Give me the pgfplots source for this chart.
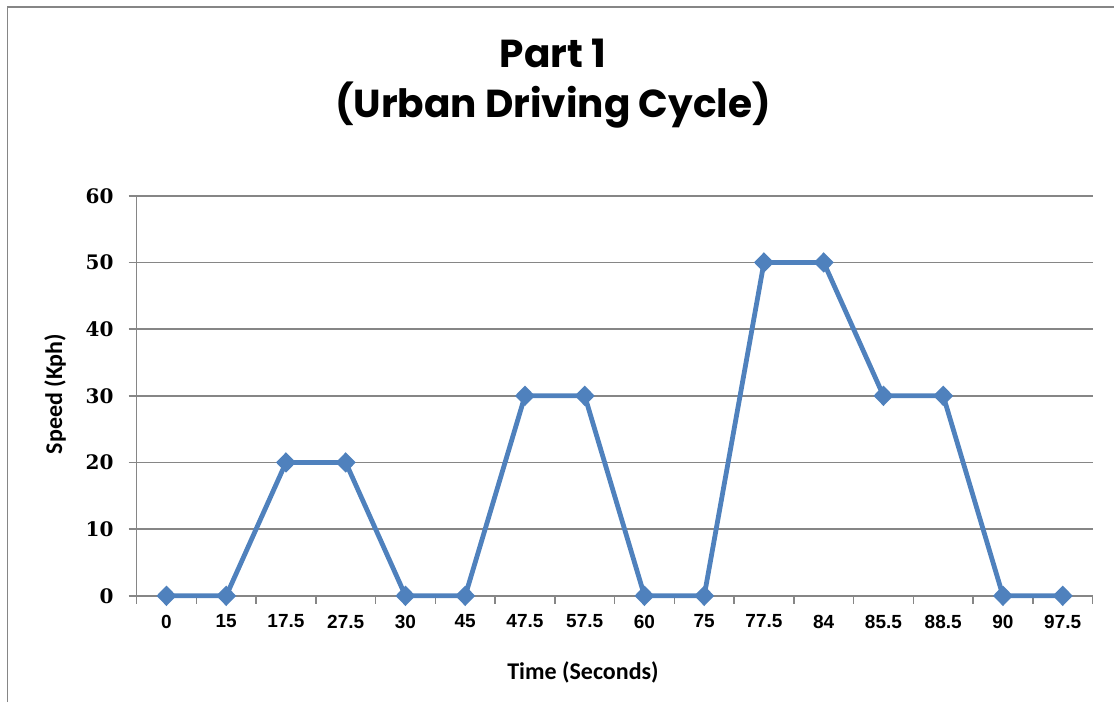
\documentclass[border=0pt]{standalone}
\usepackage{fontspec}
\setmainfont{Carlito}
\newfontfamily\titlefont{Poppins}
\newfontfamily\xlabfont{Liberation Sans}
\newfontfamily\ylabfont{DejaVu Serif}
\usepackage{pgfplots}
\pgfplotsset{compat=1.18}

\definecolor{serblue}{RGB}{79,129,189}
\definecolor{axgray}{RGB}{134,134,134}

\begin{document}
\begin{tikzpicture}
% 1 px of the reference = 0.5pt
\useasboundingbox (0,0) rectangle (557pt,351pt);
\draw[axgray, line width=0.8pt] (3.8pt,0) -- (3.8pt,347.6pt) -- (557pt,347.6pt);

\node[anchor=base, font=\titlefont\bfseries\fontsize{19.5}{24}\selectfont] at (276.5pt,317pt) {Part 1};
\node[anchor=base, font=\titlefont\bfseries\fontsize{19.5}{24}\selectfont] at (276.5pt,292pt) {(Urban Driving Cycle)};

\begin{axis}[
  at={(68.3pt,53.1pt)}, anchor=south west,
  width=478pt, height=200pt, scale only axis,
  xmin=-0.5, xmax=15.5, ymin=0, ymax=60,
  xtick={-0.5,0.5,...,15.5},
  xticklabels={},
  extra x ticks={0,...,15},
  extra x tick labels={0,15,17.5,27.5,30,45,47.5,57.5,60,75,77.5,84,85.5,88.5,90,97.5},
  extra x tick style={tick style={draw=none}},
  ytick={0,10,...,60},
  tick style={axgray, line width=0.8pt},
  major tick length=4pt,
  tick align=outside,
  axis line style={axgray, line width=0.8pt},
  axis x line*=bottom, axis y line*=left,
  ymajorgrids, grid style={axgray, line width=0.8pt},
  xticklabel style={font=\xlabfont\bfseries\fontsize{9.5}{11}\selectfont, yshift=-2pt},
  yticklabel style={font=\ylabfont\bfseries\fontsize{10}{12}\selectfont, xshift=-4pt},
  /pgf/number format/assume math mode=true,
  clip=false,
]
\addplot[serblue, line width=2.4pt, mark=diamond*, mark size=3.4pt,
  mark options={xscale=1.3, solid}]
  coordinates {(0,0) (1,0) (2,20) (3,20) (4,0) (5,0) (6,30) (7,30)
               (8,0) (9,0) (10,50) (11,50) (12,30) (13,30) (14,0) (15,0)};
\end{axis}

\node[font=\bfseries\fontsize{12}{14}\selectfont] at (291.5pt,15pt) {Time (Seconds)};
\node[font=\bfseries\fontsize{12}{14}\selectfont, rotate=90] at (27.5pt,154pt) {Speed (Kph)};
\end{tikzpicture}
\end{document}
